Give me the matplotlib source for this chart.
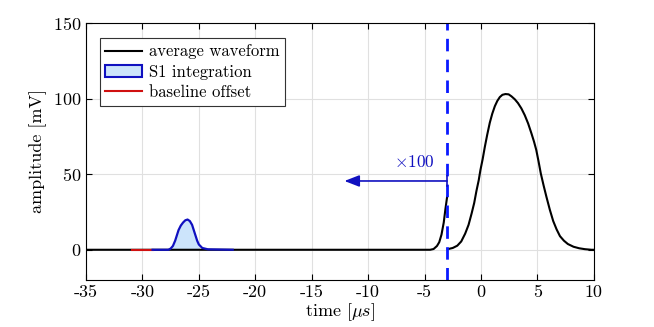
import numpy as np
import matplotlib
matplotlib.use("Agg")
import matplotlib.pyplot as plt
from matplotlib.patches import Patch
from matplotlib.lines import Line2D

plt.rcParams['font.family'] = 'serif'
plt.rcParams['font.serif'] = ['cmr10']
plt.rcParams['mathtext.fontset'] = 'cm'
plt.rcParams['axes.formatter.use_mathtext'] = True

# pre-trigger part (scaled x100)
pre_t = [-35, -4.5, -4.2, -3.9, -3.7, -3.5, -3.3, -3.15, -3.0]
pre_a = [0, 0, 0.5, 2.5, 5, 10, 18, 27, 35]

# S1 pulse (blue)
s1_t = [-29.1, -27.7, -27.5, -27.3, -27.1, -26.95, -26.8, -26.6, -26.4, -26.2, -26.0,
        -25.8, -25.6, -25.45, -25.3, -25.15, -25.0, -24.7, -24.2, -22.0]
s1_a = [0, 0, 0.8, 2.5, 6, 9.5, 13, 16, 18, 19.5, 20,
        19, 16.5, 13, 9.5, 6, 3.5, 1.2, 0.3, 0]
fill_lo, fill_hi = -27.5, -24.9

# baseline window (red)
base_t = [-30.9, -29.1]
base_a = [0, 0]

# main pulse after trigger
main_t = [-2.95, -2.5, -2.1, -1.75, -1.4, -1.1, -0.83, -0.6, -0.4, -0.2, -0.05, 0.15,
          0.34, 0.55, 0.78, 1.0, 1.23, 1.45, 1.67, 1.9, 2.17, 2.45, 2.7, 3.0, 3.28,
          3.58, 3.88, 4.18, 4.47, 4.7, 4.9, 5.1, 5.3, 5.55, 5.8, 6.1, 6.4, 6.7, 7.0,
          7.35, 7.7, 8.2, 8.7, 9.2, 9.8, 10]
main_a = [0.4, 1.2, 2.7, 5.5, 10.7, 16.5, 24, 31, 39, 46, 52.7, 60,
          68, 76, 84, 90, 95, 98.5, 101, 102.5, 103, 102.8, 101.5, 99.5, 97,
          93.5, 89, 83.5, 77, 71.5, 66, 58.5, 50.5, 42.5, 35, 26.5, 19, 13.5, 9,
          6, 3.8, 2, 1, 0.4, 0, 0]

xticks = [-35, -30, -25, -20, -15, -10, -5, 0, 5, 10]
xtick_labels = ['-35', '-30', '-25', '-20', '-15', '-10', '-5', '0', '5', '10']
yticks = [0, 50, 100, 150]

trig = -3
blue_dark = '#1010c0'

fig = plt.figure(figsize=(6.54, 3.27), dpi=100)
ax = fig.add_axes([0.1315, 0.1437, 0.7765, 0.786])

ax.plot(pre_t, pre_a, color='black', lw=1.5)
ax.plot(base_t, base_a, color='#d01010', lw=1.5)
t = np.array(s1_t); a = np.array(s1_a)
m = (t >= fill_lo) & (t <= fill_hi)
ax.fill_between(t[m], 0, a[m], color='#cce4fb', lw=0)
ax.plot(s1_t, s1_a, color=blue_dark, lw=1.6)
ax.plot(main_t, main_a, color='black', lw=1.5)

ax.axvline(trig, color='#0a1aff', lw=2, ls=(0, (4.5, 3)))
ax.annotate('', xy=(-12.1, 45.5), xytext=(trig, 45.5),
            arrowprops=dict(arrowstyle='-|>,head_length=0.9,head_width=0.35',
                            color=blue_dark, lw=1.2, shrinkA=0, shrinkB=0))
ax.plot([trig, trig], [42, 49], color=blue_dark, lw=1.2)
ax.text(-5.9, 58, r'$\times$100', color=blue_dark, fontsize=12.5, ha='center', va='center')

ax.set_xlim(-35, 10)
ax.set_ylim(-20, 150)
ax.set_xticks(xticks)
ax.set_xticklabels(xtick_labels)
ax.set_yticks(yticks)
ax.tick_params(direction='in', top=True, right=True, labelsize=13, length=4)
ax.grid(True, color='#e0e0e0', lw=0.8)
ax.set_axisbelow(True)
for s in ax.spines.values():
    s.set_linewidth(0.8)
ax.set_xlabel(r'time [$\mu s$]', fontsize=13, labelpad=1)
ax.set_ylabel('amplitude [mV]', fontsize=13)

handles = [Line2D([], [], color='black', lw=1.5),
           Patch(facecolor='#cce4fb', edgecolor=blue_dark, lw=1.5),
           Line2D([], [], color='#d01010', lw=1.5)]
leg = ax.legend(handles, ['average waveform', 'S1 integration', 'baseline offset'],
                loc='upper left', bbox_to_anchor=(0.017, 0.96), fontsize=12,
                fancybox=False, edgecolor='#333333', framealpha=1,
                handlelength=2.2, handletextpad=0.4, borderpad=0.35, labelspacing=0.3,
                borderaxespad=0.3)
leg.get_frame().set_linewidth(0.8)

fig.savefig('out.png', dpi=100)
